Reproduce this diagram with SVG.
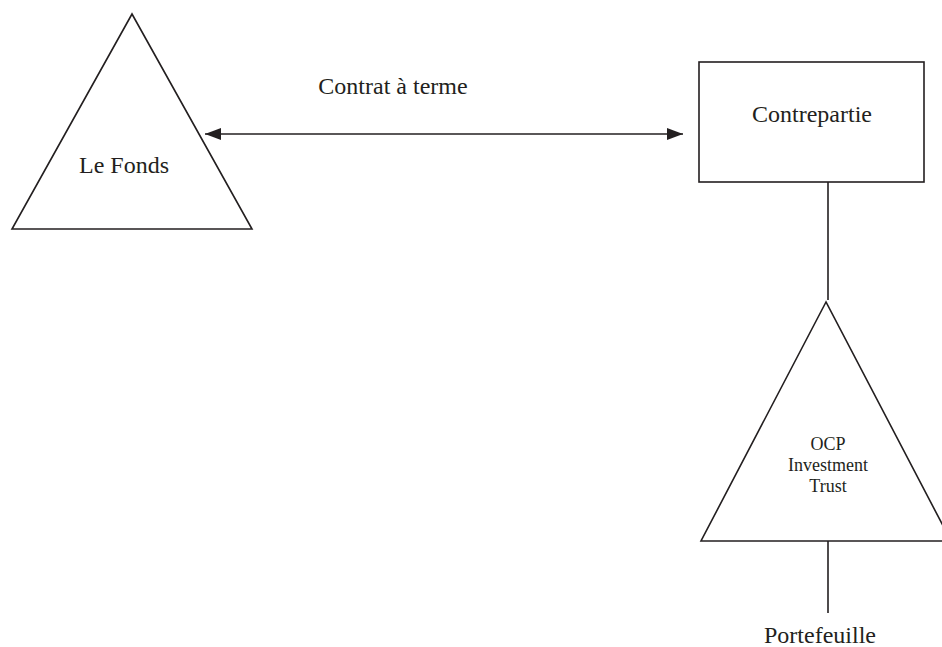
<svg xmlns="http://www.w3.org/2000/svg" width="942" height="647" viewBox="0 0 942 647">
<style>
.shape{fill:none;stroke:#231f20;stroke-width:1.6}
.conn{stroke:#231f20;stroke-width:1.6;fill:none}
text{font-family:"Liberation Serif","Times New Roman",serif;fill:#231f20;text-anchor:middle}
.big{font-size:24px}
.small{font-size:18px}
</style>
<defs>
<marker id="ah" viewBox="0 0 16 12" refX="16" refY="6" markerWidth="16" markerHeight="12" markerUnits="userSpaceOnUse" orient="auto-start-reverse">
<path d="M0,0 L16,6 L0,12 Z" fill="#231f20"/>
</marker>
</defs>
<rect width="942" height="647" fill="#ffffff"/>
<g id="connectors">
<line class="conn" x1="205" y1="134" x2="683" y2="134" marker-start="url(#ah)" marker-end="url(#ah)"/>
<line class="conn" x1="828" y1="182" x2="828" y2="300"/>
<line class="conn" x1="828" y1="541" x2="828" y2="613"/>
</g>
<g id="le-fonds">
<polygon class="shape" points="132,14 12,229 252,229"/>
<text class="big" x="124" y="173">Le Fonds</text>
</g>
<g id="contrat-label">
<text class="big" x="393" y="94">Contrat à terme</text>
</g>
<g id="contrepartie">
<rect class="shape" x="699" y="62" width="225" height="120"/>
<text class="big" x="812" y="122">Contrepartie</text>
</g>
<g id="ocp">
<polygon class="shape" points="826,302 701,541 951,541"/>
<text class="small" x="828" y="450">OCP</text>
<text class="small" x="828" y="471">Investment</text>
<text class="small" x="828" y="492">Trust</text>
</g>
<g id="portefeuille">
<text class="big" x="820" y="643">Portefeuille</text>
</g>
</svg>
